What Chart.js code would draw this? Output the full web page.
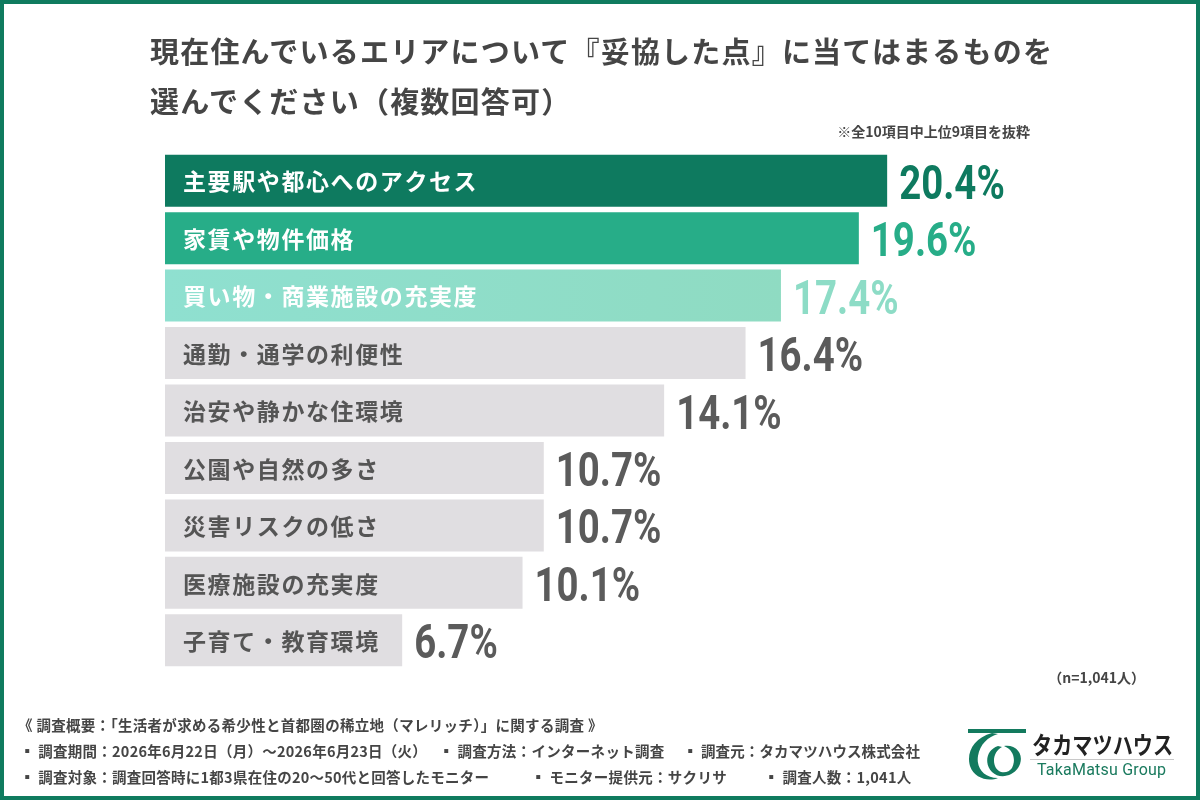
<!DOCTYPE html>
<html lang="ja">
<head>
<meta charset="utf-8">
<title>妥協した点</title>
<script src="https://cdn.jsdelivr.net/npm/chart.js@4.4.1/dist/chart.umd.min.js"></script>
<style>
  body { margin: 0; background: #fff; }
  #page { position: relative; width: 1200px; height: 800px; overflow: hidden; background: #fff;
          font-family: "Noto Sans CJK JP", "Noto Sans", sans-serif; color: #444; font-weight: 700; }
  #chartBox { position: absolute; left: 0; top: 0; width: 1200px; height: 800px; }
  #frame { position: absolute; left: 0; top: 0; width: 1200px; height: 800px; box-sizing: border-box;
           border: 4px solid #0f7b5f; pointer-events: none; }
  .t { position: absolute; white-space: nowrap; }
  #title1, #title2 { left: 150px; font-size: 29px; letter-spacing: 1.2px; color: #454545; }
  #title1 { top: 29px; }
  #title2 { top: 79px; }
  #note { right: 170px; top: 121px; font-size: 14px; color: #454545; }
  #nlabel { right: 55px; top: 667px; font-size: 14px; color: #454545; }
  .foot { font-size: 14.5px; letter-spacing: 0.3px; color: #454545; }
  #logoText { left: 1032px; top: 726px; font-size: 24px; color: #222; transform: scaleX(0.84); transform-origin: left top; }
  #logoSub { left: 1037px; top: 760px; font-family: Roboto, sans-serif; font-weight: 400; font-size: 16px; color: #1a7a5e; letter-spacing: 0.2px; }
  #logoLine { position: absolute; left: 1030px; top: 759px; width: 144px; height: 1px; background: #c8c8c8; }
  #logoMark { position: absolute; left: 962px; top: 726px; }
</style>
</head>
<body>
<div id="page">
  <div id="chartBox"><canvas id="barChart"></canvas></div>

  <div class="t" id="title1">現在住んでいるエリアについて『妥協した点』に当てはまるものを</div>
  <div class="t" id="title2">選んでください（複数回答可）</div>
  <div class="t" id="note">※全10項目中上位9項目を抜粋</div>
  <div class="t" id="nlabel">（n=1,041人）</div>

  <div class="t foot" style="left:18px; top:714px;">《 調査概要：「生活者が求める希少性と首都圏の稀立地（マレリッチ）」に関する調査 》</div>
  <div class="t foot" style="left:20px; top:740px; letter-spacing:0.25px;">▪ 調査期間：2026年6月22日（月）～2026年6月23日（火）</div>
  <div class="t foot" style="left:439px; top:740px;">▪ 調査方法：インターネット調査</div>
  <div class="t foot" style="left:683px; top:740px; letter-spacing:0.1px;">▪ 調査元：タカマツハウス株式会社</div>
  <div class="t foot" style="left:20px; top:766px; letter-spacing:0.25px;">▪ 調査対象：調査回答時に1都3県在住の20～50代と回答したモニター</div>
  <div class="t foot" style="left:531px; top:766px;">▪ モニター提供元：サクリサ</div>
  <div class="t foot" style="left:764px; top:766px;">▪ 調査人数：1,041人</div>

  <svg id="logoMark" width="68" height="58" viewBox="0 0 68 58">
    <rect x="6" y="3" width="58" height="4" fill="#137a5e"/>
    <path d="M30 7 C12 12 4 26 8 40 C12 52 26 56 36 52 C22 52 14 42 16 30 C18 18 26 11 36 8 Z" fill="#137a5e"/>
    <path d="M36 20 C24 24 22 38 30 46 C38 54 54 50 58 38 C62 26 52 18 42 20 C52 24 54 34 50 42 C46 48 36 48 33 40 C30 32 34 24 40 21 Z" fill="#137a5e"/>
  </svg>
  <div class="t" id="logoText">タカマツハウス</div>
  <div id="logoLine"></div>
  <div class="t" id="logoSub">TakaMatsu Group</div>

  <div id="frame"></div>
</div>

<script>
// data (percent of respondents)
var categories = [
  "主要駅や都心へのアクセス",
  "家賃や物件価格",
  "買い物・商業施設の充実度",
  "通勤・通学の利便性",
  "治安や静かな住環境",
  "公園や自然の多さ",
  "災害リスクの低さ",
  "医療施設の充実度",
  "子育て・教育環境"
];
var values = [20.4, 19.6, 17.4, 16.4, 14.1, 10.7, 10.7, 10.1, 6.7];
var valueLabels = values.map(function (v) { return v.toFixed(1) + "%"; });

// styling
var grayBar = "#e0dee1";
var barFill = ["#0e7a5f", "#27ad88", "gradient", grayBar, grayBar, grayBar, grayBar, grayBar, grayBar];
var valueColor = ["#0e7a5f", "#27ad88", "#8ddcc6", "#5b5b5b", "#5b5b5b", "#5b5b5b", "#5b5b5b", "#5b5b5b", "#5b5b5b"];
var labelColor = ["#ffffff", "#ffffff", "#ffffff", "#555555", "#555555", "#555555", "#555555", "#555555", "#555555"];

function fillFor(context) {
  var c = barFill[context.dataIndex];
  if (c !== "gradient") return c;
  var chart = context.chart;
  if (!chart.chartArea) return "#8edcc8";
  var g = chart.ctx.createLinearGradient(chart.chartArea.left, 0, chart.chartArea.left + 620, 0);
  g.addColorStop(0, "#8fe0d0");
  g.addColorStop(1, "#8fdbc2");
  return g;
}

// labels inside the bars and values after them
var barTextPlugin = {
  id: "barText",
  afterDatasetsDraw: function (chart) {
    var ctx = chart.ctx;
    var meta = chart.getDatasetMeta(0);
    var left = chart.chartArea.left;
    meta.data.forEach(function (bar, i) {
      ctx.save();
      ctx.font = "bold 23px 'Noto Sans CJK JP'";
      ctx.letterSpacing = "1.6px";
      ctx.fillStyle = labelColor[i];
      ctx.textAlign = "left";
      ctx.textBaseline = "middle";
      ctx.fillText(categories[i], left + 18, bar.y + 1);
      ctx.restore();

      ctx.save();
      ctx.translate(bar.x + 12, bar.y + 18);
      ctx.scale(0.8, 1);
      ctx.font = "bold 48px Roboto";
      ctx.fillStyle = valueColor[i];
      ctx.textAlign = "left";
      ctx.textBaseline = "alphabetic";
      ctx.fillText(valueLabels[i], 0, 0);
      ctx.restore();
    });
  }
};

var barChart = new Chart(document.getElementById("barChart"), {
  type: "bar",
  data: {
    labels: categories,
    datasets: [{
      data: values,
      backgroundColor: fillFor,
      borderWidth: 0,
      barPercentage: 0.905,
      categoryPercentage: 1.0
    }]
  },
  options: {
    indexAxis: "y",
    responsive: true,
    maintainAspectRatio: false,
    animation: false,
    layout: { padding: { left: 165, right: 150, top: 152, bottom: 131 } },
    scales: {
      x: { display: false, min: 0, max: 25 },
      y: { display: false }
    },
    plugins: {
      legend: { display: false },
      tooltip: { enabled: false }
    }
  },
  plugins: [barTextPlugin]
});
</script>
</body>
</html>
